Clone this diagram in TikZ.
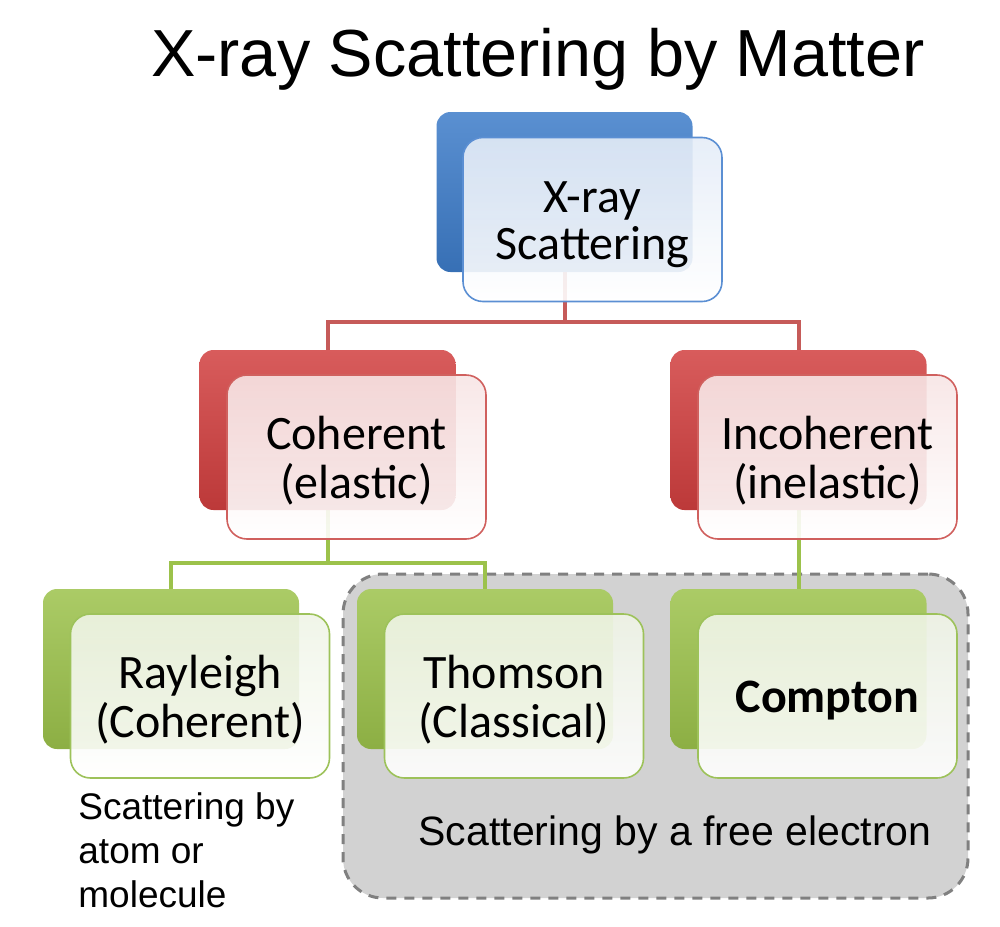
\documentclass[tikz,border=0pt]{standalone}
\usepackage{fontspec}
\setmainfont{Carlito}
\newfontfamily\arialfont{Liberation Sans}
\usetikzlibrary{arrows,shapes}
\pgfdeclarelayer{background}
\pgfsetlayers{background,main}
\definecolor{xblue}{HTML}{3D7CC9}
\definecolor{xbluetint}{HTML}{E4ECF7}
\definecolor{xblueline}{HTML}{5B8FD3}
\definecolor{xred}{HTML}{D13F3F}
\definecolor{xredtint}{HTML}{F7E5E5}
\definecolor{xredline}{HTML}{D0605E}
\definecolor{xgreen}{HTML}{9CC24B}
\definecolor{xgreentint}{HTML}{EFF4E6}
\definecolor{xgreenline}{HTML}{9DC25A}
\definecolor{regiongray}{HTML}{D2D2D2}
\newcommand{\boxlines}[1]{\raisebox{0pt}[\dimexpr\height+7pt\relax][\depth]{\begin{tabular}{@{}c@{}}#1\end{tabular}}}
\tikzset{back/.style={rectangle,rounded corners=7pt,minimum width=128pt,minimum height=80pt,inner sep=0pt,top color=#1!85!white,bottom color=#1!90!black}}
\tikzset{front/.style={rectangle,rounded corners=10pt,minimum width=129.5pt,minimum height=82pt,inner sep=0pt,line width=0.8pt,draw=#1line,top color=#1tint,bottom color=white,fill opacity=0.9,text opacity=1,font=\fontsize{24}{23}\selectfont}}
\tikzstyle{title}=[font=\arialfont\fontsize{33.3}{40}\selectfont,inner sep=0pt]
\tikzstyle{note}=[font=\arialfont\fontsize{18.5}{22}\selectfont,align=left,inner sep=0pt]
\tikzstyle{region}=[rectangle,rounded corners=20pt,minimum width=312.5pt,minimum height=162pt,fill=regiongray,draw=gray,line width=1.5pt,dash pattern=on 5pt off 4pt]
\tikzstyle{link}=[draw,line width=2pt,-]
\tikzstyle{red link}=[link,draw=xredline!95!black]
\tikzstyle{green link}=[link,draw=xgreen]

\begin{document}
\begin{tikzpicture}[x=0.5pt,y=-0.5pt]
    \useasboundingbox (0,0) rectangle (1000,926);
    \node[title,anchor=base] (title) at (538,76) {X-ray Scattering by Matter};

    % First we draw the back boxes
    \foreach \pos/\name/\kind in {{(564.5,192)/xrayb/xblue}, {(327.5,430)/cohb/xred}, {(798.5,430)/incb/xred}, {(171,669)/rayb/xgreen}, {(485,669)/thob/xgreen}, {(798.5,669)/comb/xgreen}}
        \node[back=\kind] (\name) at \pos {};

    % Then the front boxes with the texts
    \foreach \pos/\name/\kind/\txt in {{(592.5,219.5)/xray/xblue/{X-ray\\Scattering}}, {(356.5,457)/coh/xred/{Coherent\\(elastic)}}, {(827.5,457)/inc/xred/{Incoherent\\(inelastic)}}, {(200,696)/ray/xgreen/{Rayleigh\\(Coherent)}}, {(514,696)/tho/xgreen/{Thomson\\(Classical)}}, {(827.5,696)/com/xgreen/{\bfseries Compton}}}
        \node[front=\kind] (\name) at \pos {\boxlines{\txt}};

    \node[note,anchor=north west] (atomnote) at (78,792) {Scattering by\\atom or\\molecule};
    \node[note,font=\arialfont\fontsize{20.5}{24}\selectfont,anchor=base] (freenote) at (675,845) {Scattering by a free electron};

    % Connect boxes with lines
    \begin{pgfonlayer}{background}
        \node[region] (freeregion) at (655.5,736) {};
        \coordinate (redbus) at (564.5,322);
        \coordinate (greenbus) at (327.5,563);
        \path[red link] (xrayb.south) -- (redbus);
        \path[red link] (cohb.north) |- (redbus) -| (incb.north);
        \path[green link] (cohb.south) -- (greenbus);
        \path[green link] (rayb.north) |- (greenbus) -| (thob.north);
        \path[green link] (incb.south) -- (comb.north);
    \end{pgfonlayer}
\end{tikzpicture}
\end{document}
